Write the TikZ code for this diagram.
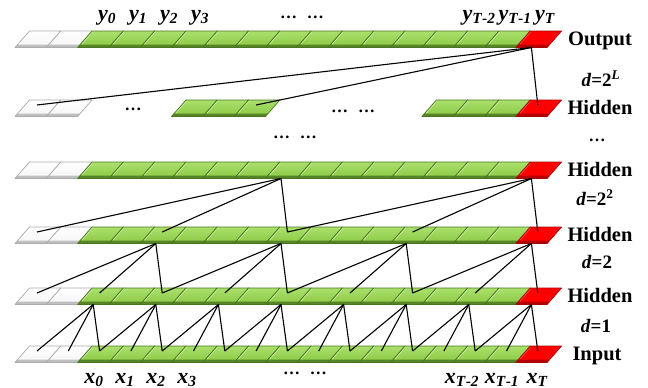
\documentclass[tikz,border=0pt]{standalone}
\usepackage{fontspec}
\setmainfont{Liberation Serif}
\definecolor{gtop}{RGB}{170,224,108}
\definecolor{gbot}{RGB}{138,200,66}
\definecolor{gbev}{RGB}{86,132,38}
\definecolor{gedge}{RGB}{72,118,30}
\definecolor{ghi}{RGB}{210,240,170}
\definecolor{rbev}{RGB}{180,0,0}
\definecolor{redge}{RGB}{170,0,0}
\begin{document}
\begin{tikzpicture}[x=1pt,y=-1pt,line join=round]
\tikzset{
  face g/.style={top color=gtop,bottom color=gbot},
  face w/.style={top color=white,bottom color=gray!8},
  face r/.style={top color=red,bottom color=red},
  bevel g/.style={fill=gbev},
  bevel w/.style={fill=gray!50},
  bevel r/.style={fill=rbev},
  edge g/.style={draw=gedge,line width=0.7pt},
  edge w/.style={draw=gray!65,line width=0.7pt},
  edge r/.style={draw=redge,line width=0.6pt},
  hi g/.style={draw=ghi,line width=0.8pt},
  hi w/.style={draw=white,line width=0.8pt},
  hi r/.style={draw=red!70!white,line width=0.8pt},
  link/.style={draw=black,line width=1.1pt},
  lab/.style={font=\fontsize{20.5}{24}\selectfont\bfseries,inner sep=0pt,anchor=base},
  var/.style={font=\fontsize{22}{26}\selectfont\bfseries\itshape,inner sep=0pt,anchor=base},
  dlab/.style={font=\fontsize{19}{23}\selectfont\bfseries,inner sep=0pt,anchor=base},
  dots/.style={font=\fontsize{17}{20}\selectfont\bfseries,inner sep=0pt,anchor=base}
}
\useasboundingbox[fill=white] (0,0) rectangle (648,388);
% #1 row name, #2 top y, #3 macro holding list of cell/type
\newcommand\tcnrow[3]{%
  \foreach \k in {0,...,16}{%
    \pgfmathsetmacro\xl{15+31.3*\k}%
    \pgfmathsetmacro\yb{#2+16.5}%
    \coordinate (#1-\k-p) at (\xl+22,#2+5);
    \coordinate (#1-\k-a) at (\xl+15.6,\yb);
  }%
  \foreach \k/\t in #3{%
    \pgfmathsetmacro\xl{15+31.3*\k}%
    \pgfmathsetmacro\yb{#2+16.5}%
    \shade[face \t] (\xl,\yb) -- ++(31.3,0) -- ++(14.5,-16.5) -- ++(-31.3,0) -- cycle;
    \fill[bevel \t] (\xl,\yb) -- ++(31.3,0) -- ++(2.6,-3) -- ++(-31.3,0) -- cycle;
    \path[hi \t] (\xl+4.2,\yb-3.5) -- ++(10.8,-12.3);
    \path[edge \t] (\xl,\yb) -- ++(31.3,0) -- ++(14.5,-16.5) -- ++(-31.3,0) -- cycle;
  }%
}
\def\fullrow{0/w,1/w,2/g,3/g,4/g,5/g,6/g,7/g,8/g,9/g,10/g,11/g,12/g,13/g,14/g,15/g,16/r}
\def\partrow{0/w,1/w,5/g,6/g,7/g,13/g,14/g,15/g,16/r}
\tcnrow{out}{31}{\fullrow}
\tcnrow{hL}{100}{\partrow}
\tcnrow{hc}{162}{\fullrow}
\tcnrow{hb}{227}{\fullrow}
\tcnrow{ha}{288}{\fullrow}
\tcnrow{in}{346}{\fullrow}
% connections
\foreach \j in {2,4,...,16}{%
  \pgfmathtruncatemacro\ja{\j-2}\pgfmathtruncatemacro\jb{\j-1}%
  \draw[link] (in-\ja-p) -- (ha-\j-a) -- (in-\j-p);
  \draw[link] (ha-\j-a) -- (in-\jb-p);
}
\foreach \j in {4,8,12,16}{%
  \pgfmathtruncatemacro\ja{\j-4}\pgfmathtruncatemacro\jb{\j-2}%
  \draw[link] (ha-\ja-p) -- (hb-\j-a) -- (ha-\j-p);
  \draw[link] (hb-\j-a) -- (ha-\jb-p);
}
\foreach \j in {8,16}{%
  \pgfmathtruncatemacro\ja{\j-8}\pgfmathtruncatemacro\jb{\j-4}%
  \draw[link] (hb-\ja-p) -- (hc-\j-a) -- (hb-\j-p);
  \draw[link] (hc-\j-a) -- (hb-\jb-p);
}
\draw[link] (hL-0-p) -- (out-16-a) -- (hL-16-p);
\draw[link] (out-16-a) -- (hL-7-p);
% output labels
\node[var] (y0) at (107,20) {y\textsubscript{0}};
\node[var] (y1) at (138,20) {y\textsubscript{1}};
\node[var] (y2) at (169,20) {y\textsubscript{2}};
\node[var] (y3) at (200,20) {y\textsubscript{3}};
\node[dots] (td) at (302,19) {…\hspace{10pt}…};
\node[var] (yT2) at (479,20) {y\textsubscript{T\textup{-}2}};
\node[var] (yT1) at (515,20) {y\textsubscript{T\textup{-}1}};
\node[var] (yT) at (545,20) {y\textsubscript{T}};
% input labels
\node[var] (x0) at (94,383) {x\textsubscript{0}};
\node[var] (x1) at (125,383) {x\textsubscript{1}};
\node[var] (x2) at (156,383) {x\textsubscript{2}};
\node[var] (x3) at (187,383) {x\textsubscript{3}};
\node[dots] (bd) at (305,374) {…\hspace{10pt}…};
\node[var] (xT2) at (462,383) {x\textsubscript{T\textup{-}2}};
\node[var] (xT1) at (502,383) {x\textsubscript{T\textup{-}1}};
\node[var] (xT) at (537,383) {x\textsubscript{T}};
% row dots
\node[dots] (d1) at (133,110) {…};
\node[dots] (d2) at (353,112) {…\hspace{10pt}…};
\node[dots] (d3) at (295,138) {…\hspace{10pt}…};
\node[dots] (d4) at (597,141) {…};
% right labels
\node[lab] (lo) at (600,45.5) {Output};
\node[lab] (l5) at (600,114.5) {Hidden};
\node[lab] (l4) at (600,176.5) {Hidden};
\node[lab] (l3) at (600,241.5) {Hidden};
\node[lab] (l2) at (600,302.5) {Hidden};
\node[lab] (li) at (597,360.5) {Input};
\node[dlab] (dL) at (601,86) {\textit{d}=2\textsuperscript{\textit{L}}};
\node[dlab] (d22) at (595,205) {\textit{d}=2\textsuperscript{2}};
\node[dlab] (d2) at (597,268) {\textit{d}=2};
\node[dlab] (d1l) at (596,332) {\textit{d}=1};
\end{tikzpicture}
\end{document}
